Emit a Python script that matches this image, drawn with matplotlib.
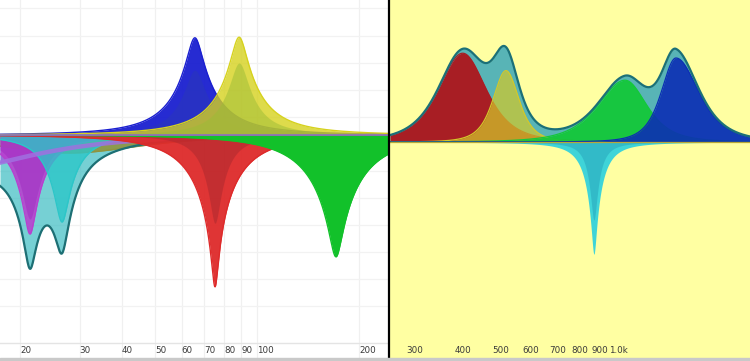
import numpy as np
import matplotlib
matplotlib.use("Agg")
import matplotlib.pyplot as plt
from matplotlib.lines import Line2D
from matplotlib.patches import Rectangle

# ---------------- data ----------------
# Left panel (white): EQ bands  [centre Hz, gain dB, Q]
left_names = ["purple", "olive", "magenta", "cyan", "red", "green", "blue", "yellow"]
left_f0 = [12.0, 28.0, 21.4, 26.6, 75.2, 171.0, 65.6, 88.6]
left_gain = [-6.0, -3.0, -16.5, -14.5, -25.3, -20.3, 16.2, 16.3]
left_q = [0.7, 0.8, 6.0, 6.0, 6.4, 4.2, 4.2, 4.2]
# inner (second) curves for some bands
left_inner_names = ["red", "blue", "yellow", "magenta"]
left_inner_f0 = [75.2, 65.6, 88.6, 21.4]
left_inner_gain = [-14.7, 10.8, 12.0, -14.0]
left_inner_q = [7.5, 4.6, 4.8, 6.0]
left_sum_members = ["purple", "magenta", "cyan"]

# Right panel (yellow): boost bands [centre Hz, gain dB, width below / above centre (octaves)]
right_names = ["red", "yellow", "green", "blue"]
right_f0 = [420.0, 543.0, 1101.0, 1489.0]
right_gain = [14.8, 11.9, 10.3, 14.0]
right_width_lo = [0.383, 0.205, 0.427, 0.231]
right_width_hi = [0.37, 0.205, 0.342, 0.359]
# notch band
right_cut_f0 = 915.0
right_cut_gain = -18.7
right_cut_q = 14.0
right_cut_inner_gain = -13.0
right_cut_inner_q = 16.0

left_ticks = [20, 30, 40, 50, 60, 70, 80, 90, 100, 200]
left_tick_labels = ["20", "30", "40", "50", "60", "70", "80", "90", "100", "200"]
right_ticks = [300, 400, 500, 600, 700, 800, 900, 1000]
right_tick_labels = ["300", "400", "500", "600", "700", "800", "900", "1.0k"]

# ---------------- styles ----------------
left_colors = {
    "purple": ("#9a62dc", 0.85),
    "olive": ("#8f9440", 0.9),
    "magenta": ("#b93fcf", 0.88),
    "cyan": ("#2cc6c8", 0.8),
    "red": ("#de2a2a", 0.95),
    "green": ("#12c12a", 1.0),
    "blue": ("#1a1fd0", 0.95),
    "yellow": ("#d6d21e", 0.8),
}
left_inner_colors = {"red": "#a8282e", "blue": "#2a38b8", "yellow": "#9cbc36", "magenta": "#a02cc0"}
right_colors = {
    "red": ("#a81e24", 1.0),
    "yellow": ("#d2c82a", 0.72),
    "green": ("#14c83a", 0.95),
    "blue": ("#0c2eb4", 0.9),
}
cut_color = "#34d2dc"
cut_inner_color = "#2aaabe"


def peq(f, f0, g, q):
    A = 10 ** (g / 40.0)
    w = f / f0
    v = w - 1.0 / w
    a = A / q
    b = 1.0 / (A * q)
    return 10 * np.log10((v ** 2 + a ** 2) / (v ** 2 + b ** 2))


def bell(f, f0, g, wlo, whi):
    x = np.log2(f / f0)
    w = np.where(x < 0, wlo, whi)
    return g / (1 + (x / w) ** 2) ** 2


fig = plt.figure(figsize=(7.5, 3.61), dpi=100)
fig.patch.set_facecolor("white")

W, H = 750.0, 361.0
bottom_px = 3.0
axL = fig.add_axes([0, bottom_px / H, 388 / W, (H - bottom_px) / H])
axR = fig.add_axes([390 / W, bottom_px / H, 360 / W, (H - bottom_px) / H])

px_per_db = 6.0
axes_h = H - bottom_px

fL0 = 20 * 10 ** (-20 / 339.0)
fL1 = 20 * 10 ** ((388 - 20) / 339.0)
fR0 = 300 * 10 ** ((390 - 406) / 388.0)
fR1 = 300 * 10 ** ((750 - 406) / 388.0)

fL = np.geomspace(fL0, fL1, 2000)
fR = np.geomspace(fR0, fR1, 2000)

# ---------- left panel ----------
ax = axL
ax.set_facecolor("white")
ax.set_xscale("log")
ax.set_xlim(fL0, fL1)
base_L = 135.0
ax.set_ylim(-(axes_h - base_L) / px_per_db, base_L / px_per_db)
for t in left_ticks:
    ax.axvline(t, color="#f0f0f0", lw=0.9, zorder=0)
for yp in [8, 36, 63, 90, 117, 171, 198, 225, 252, 279, 306, 343]:
    ax.axhline((base_L - yp) / px_per_db, color="#f2f2f2", lw=0.9, zorder=0)

curves_L = {}
for n, f0, g, q in zip(left_names, left_f0, left_gain, left_q):
    curves_L[n] = peq(fL, f0, g, q)
ysumL = sum(curves_L[m] for m in left_sum_members)
ax.fill_between(fL, 0, ysumL, color="#3cbcc2", alpha=0.7, lw=0, zorder=1)

z = 2
for n in left_names:
    col, al = left_colors[n]
    y = curves_L[n]
    ax.fill_between(fL, 0, y, color=col, alpha=al, lw=0, zorder=z)
    ax.plot(fL, y, color=col, lw=1.0, zorder=z + 0.1)
    if n in left_inner_names:
        i = left_inner_names.index(n)
        yi = peq(fL, left_inner_f0[i], left_inner_gain[i], left_inner_q[i])
        ax.fill_between(fL, 0, yi, color=left_inner_colors[n], alpha=0.5, lw=0, zorder=z + 0.2)
    if n == "cyan":
        ax.plot(fL, ysumL, color="#1d6f74", lw=1.6, zorder=z + 0.3)
        ax.plot(fL, curves_L["purple"], color="#a070e0", lw=3.2, alpha=0.85, zorder=z + 0.4)
    z += 1
ax.axhline(0, color="#8a6fc0", lw=1.2, zorder=z + 1)

ax.set_xticks(left_ticks)
ax.set_xticklabels(left_tick_labels)
ax.minorticks_off()
ax.set_yticks([])

# ---------- right panel ----------
ax = axR
ax.set_facecolor("#ffffa2")
ax.set_xscale("log")
ax.set_xlim(fR0, fR1)
base_R = 142.0
ax.set_ylim(-(axes_h - base_R) / px_per_db, base_R / px_per_db)

curves_R = {}
for n, f0, g, wl, wh in zip(right_names, right_f0, right_gain, right_width_lo, right_width_hi):
    curves_R[n] = bell(fR, f0, g, wl, wh)
ysumR = sum(curves_R[m] for m in right_names)
ax.fill_between(fR, 0, ysumR, color="#4fb0b8", alpha=0.95, lw=0, zorder=1)
z = 2
for n in right_names:
    col, al = right_colors[n]
    y = curves_R[n]
    ax.fill_between(fR, 0, y, color=col, alpha=al, lw=0, zorder=z)
    ax.plot(fR, y, color=col, lw=0.9, zorder=z + 0.1)
    z += 1
ycut = peq(fR, right_cut_f0, right_cut_gain, right_cut_q)
ycut_in = peq(fR, right_cut_f0, right_cut_inner_gain, right_cut_inner_q)
ax.fill_between(fR, 0, ycut, color=cut_color, alpha=0.95, lw=0, zorder=z)
ax.fill_between(fR, 0, ycut_in, color=cut_inner_color, alpha=0.6, lw=0, zorder=z + 0.2)
ax.plot(fR, ysumR, color="#1b7078", lw=1.6, zorder=z + 1)
ax.axhline(0, color="#b8a838", lw=0.9, zorder=z + 2)

ax.set_xticks(right_ticks)
ax.set_xticklabels(right_tick_labels)
ax.minorticks_off()
ax.set_yticks([])

for ax in (axL, axR):
    for s in ax.spines.values():
        s.set_visible(False)
    ax.tick_params(axis="x", length=0, pad=-8.5, labelsize=6.3, labelcolor="#3a3a3a")
    for lab in ax.get_xticklabels():
        lab.set_horizontalalignment("left")

axL.axhline((base_L - 343) / px_per_db, color="#e4e4e4", lw=0.9, zorder=0)

fig.add_artist(Line2D([389 / W, 389 / W], [0, 1], color="black", lw=1.6, transform=fig.transFigure))
fig.add_artist(Rectangle((0, 0), 1, bottom_px / H, color="#c9c9c9", transform=fig.transFigure, zorder=10))

fig.savefig("out.png", dpi=100)
